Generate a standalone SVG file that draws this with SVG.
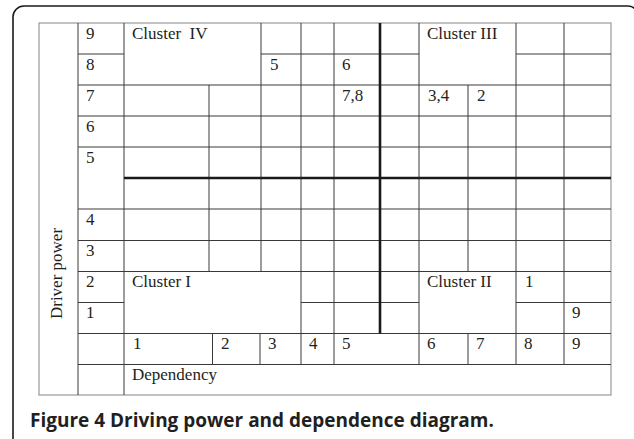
<svg xmlns="http://www.w3.org/2000/svg" width="634" height="439" viewBox="0 0 634 439">
<style>
.t{font-family:"Liberation Serif","Times New Roman",serif;font-size:17px;fill:#231f20}
.g{stroke:#3a3a3a;stroke-width:1;fill:none}
.k{stroke:#1a1a1a;stroke-width:2.6;fill:none}
.cap{font-family:"Open Sans","Noto Sans",sans-serif;font-weight:bold;font-size:19px;fill:#231f20}
</style>
<rect width="634" height="439" fill="#fff"/>
<path d="M13,440 V17 A11,11 0 0 1 24,6 H628 A10,10 0 0 1 638,16 V440" fill="none" stroke="#1a1a1a" stroke-width="1.6"/>
<g id="grid">
<rect x="39" y="23" width="572" height="372" fill="none" stroke="#999" stroke-width="1.2"/>
<path class="g" d="M78,23V395 M124,23V395 M209,85V271.5 M212.5,333.5V364.5 M261,23V271.5 M260,333.5V364.5 M301,23V364.5 M334,23V364.5 M419,23V364.5 M468,85V271.5 M468,333.5V364.5 M516,23V364.5 M564,23V364.5"/>
<path class="g" d="M78,54H124 M261,54H419 M516,54H611 M78,85H611 M78,116H611 M78,147H611 M78,209H611 M78,240.5H611 M78,271.5H611 M78,302.5H124 M301,302.5H419 M516,302.5H611 M78,333.5H611 M78,364.5H611"/>
<path class="k" d="M380,23V333.5 M124,178H611"/>
</g>
<g id="rowlabels" class="t">
<text x="86" y="38.5">9</text>
<text x="86" y="69.5">8</text>
<text x="86" y="100.5">7</text>
<text x="86" y="131.5">6</text>
<text x="86" y="162.5">5</text>
<text x="86" y="224.5">4</text>
<text x="86" y="256">3</text>
<text x="86" y="287">2</text>
<text x="86" y="318">1</text>
</g>
<g id="cells" class="t">
<text x="132" y="38.5" xml:space="preserve">Cluster  IV</text>
<text x="427" y="38.5">Cluster III</text>
<text x="132" y="287">Cluster I</text>
<text x="427" y="287">Cluster II</text>
<text x="270" y="69.5">5</text>
<text x="342" y="69.5">6</text>
<text x="342" y="100.5">7,8</text>
<text x="428" y="100.5">3,4</text>
<text x="477" y="100.5">2</text>
<text x="525" y="287">1</text>
<text x="572" y="318">9</text>
</g>
<g id="collabels" class="t">
<text x="133" y="349">1</text>
<text x="221" y="349">2</text>
<text x="268" y="349">3</text>
<text x="309" y="349">4</text>
<text x="342" y="349">5</text>
<text x="427" y="349">6</text>
<text x="476" y="349">7</text>
<text x="524" y="349">8</text>
<text x="572" y="349">9</text>
<text x="132" y="380">Dependency</text>
</g>
<g id="axis" class="t">
<text x="0" y="0" text-anchor="middle" transform="translate(62,273.5) rotate(-90)">Driver power</text>
</g>
<text class="cap" x="30" y="427">Figure 4 Driving power and dependence diagram.</text>
</svg>
